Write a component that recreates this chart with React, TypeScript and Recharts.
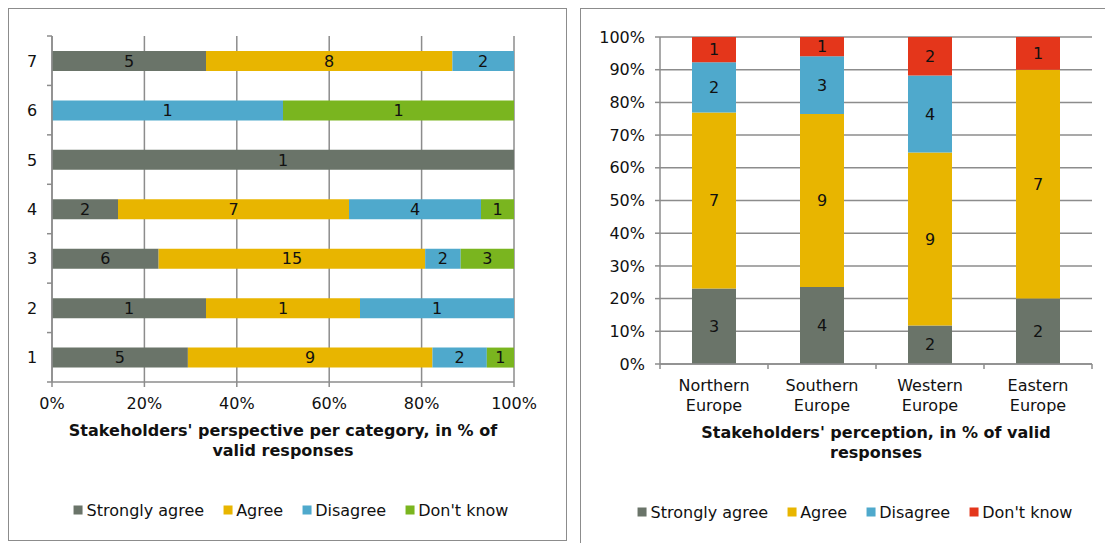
import { BarChart, Bar, XAxis, YAxis, CartesianGrid, LabelList } from 'recharts'

// left chart: stakeholders per category (top row first)
const leftCats = ['7', '6', '5', '4', '3', '2', '1']
const leftStrongly = [5, 0, 1, 2, 6, 1, 5]
const leftAgree = [8, 0, 0, 7, 15, 1, 9]
const leftDisagree = [2, 1, 0, 4, 2, 1, 2]
const leftDontKnow = [0, 1, 0, 1, 3, 0, 1]
const leftTicks = [0, 0.2, 0.4, 0.6, 0.8, 1]

// right chart: stakeholders per region
const rightCats = ['Northern Europe', 'Southern Europe', 'Western Europe', 'Eastern Europe']
const rightStrongly = [3, 4, 2, 2]
const rightAgree = [7, 9, 9, 7]
const rightDisagree = [2, 3, 4, 0]
const rightDontKnow = [1, 1, 2, 1]
const rightTicks = [0, 0.1, 0.2, 0.3, 0.4, 0.5, 0.6, 0.7, 0.8, 0.9, 1]

const leftTitle = ["Stakeholders' perspective per category, in % of", 'valid responses']
const rightTitle = ["Stakeholders' perception, in % of valid", 'responses']

const C_SA = '#6a7469'
const C_A = '#e8b500'
const C_D = '#4fa9cc'
const C_DK_L = '#7ab51f'
const C_DK_R = '#e4361b'
const GRID = '#8c8c8c'
const FONT = "'DejaVu Sans', Verdana, sans-serif"
const FS = 16

const leftData = leftCats.map((cat, i) => ({
  cat,
  sa: leftStrongly[i],
  a: leftAgree[i],
  d: leftDisagree[i],
  dk: leftDontKnow[i],
}))

const rightData = rightCats.map((cat, i) => ({
  cat,
  sa: rightStrongly[i],
  a: rightAgree[i],
  d: rightDisagree[i],
  dk: rightDontKnow[i],
}))

// plot sizes (used for the between-category tick marks)
const L_W = 557, L_H = 531
const L_M = { top: 27, right: 52, bottom: 128, left: 0 }
const L_YW = 43, L_XH = 30
const L_BAND = (L_H - L_M.top - L_M.bottom - L_XH) / leftCats.length

const R_W = 532, R_H = 533
const R_M = { top: 28, right: 21, bottom: 128, left: 0 }
const R_YW = 79, R_XH = 50
const R_BAND = (R_W - R_M.left - R_M.right - R_YW) / rightCats.length

const pct = (v: number) => `${Math.round(v * 100)}%`
const hideZero = (v: any) => (v ? v : '')

function LeftCatTick({ x, y, payload }: any) {
  const last = payload.value === leftCats[leftCats.length - 1]
  return (
    <g>
      <line x1={x - 5} x2={x} y1={y - L_BAND / 2} y2={y - L_BAND / 2} stroke={GRID} strokeWidth={1.5} />
      {last && <line x1={x - 5} x2={x} y1={y + L_BAND / 2} y2={y + L_BAND / 2} stroke={GRID} strokeWidth={1.5} />}
      <text x={x - 20} y={y} dy={6} textAnchor="middle" fontSize={FS} fill="#111">
        {payload.value}
      </text>
    </g>
  )
}

function RightCatTick({ x, y, payload }: any) {
  const last = payload.value === rightCats[rightCats.length - 1]
  const words = String(payload.value).split(' ')
  return (
    <g>
      <line x1={x - R_BAND / 2} x2={x - R_BAND / 2} y1={y} y2={y + 5} stroke={GRID} strokeWidth={1.5} />
      {last && <line x1={x + R_BAND / 2} x2={x + R_BAND / 2} y1={y} y2={y + 5} stroke={GRID} strokeWidth={1.5} />}
      <text x={x} y={y} textAnchor="middle" fontSize={FS} fill="#111">
        {words.map((w, i) => (
          <tspan key={i} x={x} y={y + 27 + i * 20}>{w}</tspan>
        ))}
      </text>
    </g>
  )
}

function Legend({ items, left, top }: { items: [string, string][]; left: number; top: number }) {
  return (
    <div
      style={{
        position: 'absolute', left, top, transform: 'translate(-50%, -50%)',
        display: 'flex', gap: 19, whiteSpace: 'nowrap', fontSize: FS, color: '#111',
      }}
    >
      {items.map(([label, color]) => (
        <span key={label} style={{ display: 'flex', alignItems: 'center', gap: 4 }}>
          <span style={{ width: 9, height: 9, background: color, display: 'inline-block' }} />
          {label}
        </span>
      ))}
    </div>
  )
}

function Title({ lines, left, top }: { lines: string[]; left: number; top: number }) {
  return (
    <div
      style={{
        position: 'absolute', left: left - 260, top, width: 520, textAlign: 'center',
        fontWeight: 'bold', fontSize: FS, lineHeight: '20px', color: '#111',
      }}
    >
      {lines[0]}
      <br />
      {lines[1]}
    </div>
  )
}

const labelStyle = { fontSize: FS, fill: '#111' }

export default function App() {
  return (
    <div style={{ position: 'relative', width: 1105, height: 535, overflow: 'hidden', fontFamily: FONT }}>
      <div style={{ position: 'absolute', left: 0, top: 0, width: 559, height: 533, border: `1px solid ${GRID}`, boxSizing: 'border-box' }} />
      <div style={{ position: 'absolute', left: 572, top: 0, width: 545, height: 545, border: `1px solid ${GRID}`, boxSizing: 'border-box' }} />

      <div style={{ position: 'absolute', left: 1, top: 1 }}>
        <BarChart width={L_W} height={L_H} data={leftData} layout="vertical" stackOffset="expand" margin={L_M} barSize={20}>
          <CartesianGrid horizontal={false} stroke={GRID} strokeWidth={1.5} />
          <XAxis
            type="number"
            domain={[0, 1]}
            ticks={leftTicks}
            tickFormatter={pct}
            height={L_XH}
            tickSize={5}
            tickMargin={11}
            axisLine={{ stroke: GRID, strokeWidth: 1.5 }}
            tickLine={{ stroke: GRID, strokeWidth: 1.5 }}
            tick={{ fontSize: FS, fill: '#111' }}
          />
          <YAxis
            type="category"
            dataKey="cat"
            width={L_YW}
            tickSize={0}
            tickMargin={0}
            axisLine={{ stroke: GRID, strokeWidth: 1.5 }}
            tick={<LeftCatTick />}
          />
          <Bar dataKey="sa" stackId="s" fill={C_SA} isAnimationActive={false}>
            <LabelList dataKey="sa" position="center" formatter={hideZero} style={labelStyle} />
          </Bar>
          <Bar dataKey="a" stackId="s" fill={C_A} isAnimationActive={false}>
            <LabelList dataKey="a" position="center" formatter={hideZero} style={labelStyle} />
          </Bar>
          <Bar dataKey="d" stackId="s" fill={C_D} isAnimationActive={false}>
            <LabelList dataKey="d" position="center" formatter={hideZero} style={labelStyle} />
          </Bar>
          <Bar dataKey="dk" stackId="s" fill={C_DK_L} isAnimationActive={false}>
            <LabelList dataKey="dk" position="center" formatter={hideZero} style={labelStyle} />
          </Bar>
        </BarChart>
      </div>

      <div style={{ position: 'absolute', left: 573, top: 1 }}>
        <BarChart width={R_W} height={R_H} data={rightData} stackOffset="expand" margin={R_M} barSize={44}>
          <CartesianGrid vertical={false} stroke={GRID} strokeWidth={1.5} />
          <XAxis
            dataKey="cat"
            height={R_XH}
            tickSize={0}
            tickMargin={0}
            interval={0}
            axisLine={{ stroke: GRID, strokeWidth: 1.5 }}
            tick={<RightCatTick />}
          />
          <YAxis
            type="number"
            domain={[0, 1]}
            ticks={rightTicks}
            tickFormatter={pct}
            width={R_YW}
            tickSize={5}
            tickMargin={10}
            axisLine={{ stroke: GRID, strokeWidth: 1.5 }}
            tickLine={{ stroke: GRID, strokeWidth: 1.5 }}
            tick={{ fontSize: FS, fill: '#111' }}
          />
          <Bar dataKey="sa" stackId="s" fill={C_SA} isAnimationActive={false}>
            <LabelList dataKey="sa" position="center" formatter={hideZero} style={labelStyle} />
          </Bar>
          <Bar dataKey="a" stackId="s" fill={C_A} isAnimationActive={false}>
            <LabelList dataKey="a" position="center" formatter={hideZero} style={labelStyle} />
          </Bar>
          <Bar dataKey="d" stackId="s" fill={C_D} isAnimationActive={false}>
            <LabelList dataKey="d" position="center" formatter={hideZero} style={labelStyle} />
          </Bar>
          <Bar dataKey="dk" stackId="s" fill={C_DK_R} isAnimationActive={false}>
            <LabelList dataKey="dk" position="center" formatter={hideZero} style={labelStyle} />
          </Bar>
        </BarChart>
      </div>

      <Title lines={leftTitle} left={275} top={413} />
      <Title lines={rightTitle} left={868} top={415} />

      <Legend
        left={283}
        top={502}
        items={[['Strongly agree', C_SA], ['Agree', C_A], ['Disagree', C_D], ["Don't know", C_DK_L]]}
      />
      <Legend
        left={847}
        top={504}
        items={[['Strongly agree', C_SA], ['Agree', C_A], ['Disagree', C_D], ["Don't know", C_DK_R]]}
      />
    </div>
  )
}
